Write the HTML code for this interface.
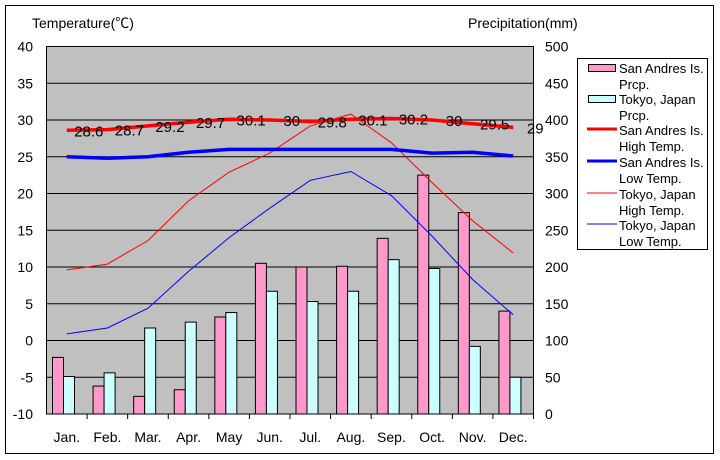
<!DOCTYPE html>
<html><head><meta charset="utf-8"><style>
html,body{margin:0;padding:0;background:#fff}
svg{display:block}
text{font-family:"Liberation Sans","Noto Sans CJK JP",sans-serif;font-size:14px;fill:#000}
.lg{font-size:13px}
</style></head><body>
<svg width="720" height="460" xmlns="http://www.w3.org/2000/svg" id="c">
<rect x="5.5" y="5.5" width="708" height="448" fill="#fff" stroke="#000" stroke-width="1"/>
<rect x="46.5" y="46.5" width="487" height="367.5" fill="#c0c0c0" stroke="#000" stroke-width="1"/>
<g id="g"></g>
<text x="32" y="28">Temperature(℃)</text>
<text x="468" y="28">Precipitation(mm)</text>
<rect x="577.5" y="58.5" width="130" height="191" fill="#fff" stroke="#000"/>
<rect x="588.5" y="64.5" width="27" height="7" fill="#ff99cc" stroke="#000"/>
<g class="lg">
<text class="lg" x="619" y="73">San Andres Is.</text><text class="lg" x="619" y="89">Prcp.</text>
<text class="lg" x="619" y="104">Tokyo, Japan</text><text class="lg" x="619" y="120">Prcp.</text>
<text class="lg" x="619" y="135">San Andres Is.</text><text class="lg" x="619" y="151">High Temp.</text>
<text class="lg" x="619" y="167">San Andres Is.</text><text class="lg" x="619" y="183">Low Temp.</text>
<text class="lg" x="619" y="199">Tokyo, Japan</text><text class="lg" x="619" y="215">High Temp.</text>
<text class="lg" x="619" y="230">Tokyo, Japan</text><text class="lg" x="619" y="246">Low Temp.</text>
</g>
<rect x="588.5" y="95.5" width="27" height="7" fill="#ccffff" stroke="#000"/>
<line x1="587" y1="129" x2="617" y2="129" stroke="#f00" stroke-width="3"/>
<line x1="587" y1="161" x2="617" y2="161" stroke="#00f" stroke-width="3"/>
<line x1="587" y1="193" x2="617" y2="193" stroke="#f00" stroke-width="1"/>
<line x1="587" y1="224" x2="617" y2="224" stroke="#00f" stroke-width="1"/>
</svg>
<script>
var g=document.getElementById('g'),h='';
var L=46.5,W=487/12,T=46.5,B=414;
function ty(t){return B-(t+10)*7.35}
function py(p){return B-p*0.735}
for(var i=1;i<10;i++){var y=T+i*36.75;h+='<line x1="'+L+'" y1="'+y+'" x2="533.5" y2="'+y+'" stroke="#000"/>';}
for(var i=0;i<=10;i++){var y=T+i*36.75;h+='<text x="33" y="'+(y+5)+'" text-anchor="end">'+(40-5*i)+'</text>';h+='<text x="545" y="'+(y+5)+'">'+(500-50*i)+'</text>';}
var m=['Jan.','Feb.','Mar.','Apr.','May','Jun.','Jul.','Aug.','Sep.','Oct.','Nov.','Dec.'];
var pa=[77,38,24,33,132,205,200,201,239,325,274,140],pb=[51,56,117,125,138,167,153,167,210,198,92,50];
for(var i=0;i<12;i++){var x=L+i*W;
h+='<line x1="'+(x+W)+'" y1="414" x2="'+(x+W)+'" y2="419" stroke="#000"/>';
h+='<rect x="'+(x+6)+'" y="'+py(pa[i])+'" width="11" height="'+(B-py(pa[i]))+'" fill="#ff99cc" stroke="#000"/>';
h+='<rect x="'+(x+17)+'" y="'+py(pb[i])+'" width="11" height="'+(B-py(pb[i]))+'" fill="#ccffff" stroke="#000"/>';
h+='<text x="'+(x+W/2)+'" y="442" text-anchor="middle">'+m[i]+'</text>';}
function line(d,c,w){var p=d.map(function(t,i){return (L+W*(i+.5)).toFixed(1)+','+ty(t).toFixed(1)}).join(' ');h+='<polyline points="'+p+'" fill="none" stroke="'+c+'" stroke-width="'+w+'"/>';}
var sh=[28.6,28.7,29.2,29.7,30.1,30,29.8,30.1,30.2,30,29.5,29];
line([9.6,10.4,13.6,19,22.9,25.5,29.2,30.8,26.9,21.5,16.3,11.9],'#f00',1);
line([0.9,1.7,4.4,9.4,14,18,21.8,23,19.7,14.2,8.3,3.5],'#00f',1);
line(sh,'#f00',3.5);
line([25,24.8,25,25.6,26,26,26,26,26,25.5,25.6,25.1],'#00f',3.5);
for(var i=0;i<12;i++){h+='<text x="'+(L+W*(i+.5)+22)+'" y="'+(ty(sh[i])+6)+'" text-anchor="middle" style="font-size:15px">'+sh[i]+'</text>';}
g.innerHTML=h;
</script>
</body></html>
